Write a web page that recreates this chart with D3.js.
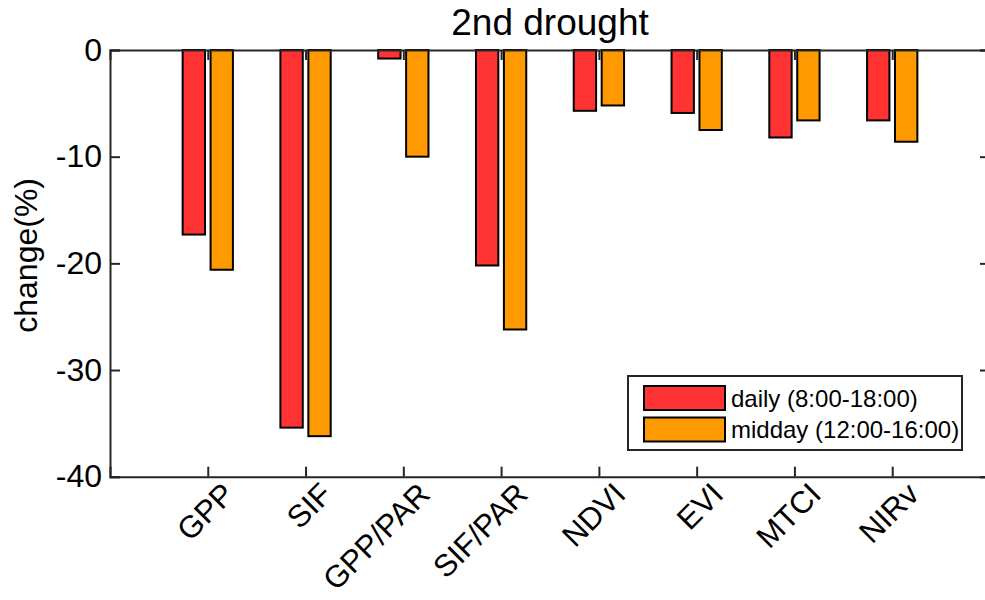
<!DOCTYPE html>
<html>
<head>
<meta charset="utf-8">
<script src="https://cdn.jsdelivr.net/npm/d3@7"></script>
<style>
  html, body { margin: 0; padding: 0; background: #fff; }
  svg { display: block; }
  text { font-family: "Liberation Sans", Arial, Helvetica, sans-serif; fill: #000; }
</style>
</head>
<body>
<svg id="chart" width="985" height="600"></svg>
<script>
const categories = ["GPP", "SIF", "GPP/PAR", "SIF/PAR", "NDVI", "EVI", "MTCI", "NIRv"];
const daily  = [-17.3, -35.4, -0.8, -20.2, -5.7, -5.9, -8.2, -6.6];
const midday = [-20.6, -36.2, -10.0, -26.2, -5.2, -7.5, -6.6, -8.6];
const seriesNames = ["daily (8:00-18:00)", "midday (12:00-16:00)"];
const yTicks = [0, -10, -20, -30, -40];
const titleText = "2nd drought";
const yLabel = "change(%)";

const colors = ["#ff3333", "#ff9900"];
const series = [daily, midday];

const svg = d3.select("#chart");
const L = 110, R = 990, T = 50, B = 476.7;
const x = d3.scaleLinear().domain([0, categories.length + 1]).range([L, R]);
const y = d3.scaleLinear().domain([-40, 0]).range([B, T]);

const axisColor = "#262626";
const groupW = 0.5714, barW = 0.2286;
const offsets = [-groupW / 4, groupW / 4];

// bars
series.forEach((vals, s) => {
  svg.append("g").selectAll("rect").data(vals).join("rect")
    .attr("x", (d, i) => x(i + 1 + offsets[s]) - (x(barW) - x(0)) / 2)
    .attr("width", x(barW) - x(0))
    .attr("y", d => y(Math.max(0, d)))
    .attr("height", d => Math.abs(y(d) - y(0)))
    .attr("fill", colors[s])
    .attr("stroke", "#000")
    .attr("stroke-width", 2);
});

// axes
const fs = 32;
const yAxisL = svg.append("g").attr("transform", `translate(${L},0)`)
  .call(d3.axisLeft(y).tickValues(yTicks).tickSize(-10).tickPadding(8).tickFormat(d3.format("d")));
const yAxisR = svg.append("g").attr("transform", `translate(${R},0)`)
  .call(d3.axisRight(y).tickValues(yTicks).tickSize(-10).tickFormat(""));
const xAxisB = svg.append("g").attr("transform", `translate(0,${B})`)
  .call(d3.axisBottom(x).tickValues(d3.range(1, categories.length + 1)).tickSize(-10).tickFormat(""));
const xAxisT = svg.append("g").attr("transform", `translate(0,${T})`)
  .call(d3.axisTop(x).tickValues(d3.range(1, categories.length + 1)).tickSize(-10).tickFormat(""));

[yAxisL, yAxisR, xAxisB, xAxisT].forEach(g => {
  g.select(".domain").attr("stroke", axisColor).attr("stroke-width", 2);
  g.selectAll(".tick line").attr("stroke", axisColor).attr("stroke-width", 2);
  g.selectAll(".tick text").attr("font-size", fs).attr("font-family", "Liberation Sans, Arial, sans-serif").attr("fill", "#000");
});
yAxisL.selectAll(".tick text").text(d => d === 0 ? "0" : "-" + Math.abs(d));

// rotated category labels
svg.append("g").selectAll("text").data(categories).join("text")
  .attr("transform", (d, i) => `translate(${x(i + 1) + 21},${B + 12}) rotate(-45)`)
  .attr("text-anchor", "end")
  .attr("dominant-baseline", "central")
  .attr("font-size", 31)
  .text(d => d);

// y label
svg.append("text")
  .attr("transform", `translate(26,${(T + B) / 2 - 8}) rotate(-90)`)
  .attr("text-anchor", "middle")
  .attr("dominant-baseline", "central")
  .attr("font-size", fs)
  .text(yLabel);

// title
svg.append("text")
  .attr("x", (L + R) / 2).attr("y", 35)
  .attr("text-anchor", "middle")
  .attr("font-size", 37)
  .text(titleText);

// legend
const lg = svg.append("g");
lg.append("rect").attr("x", 628).attr("y", 376).attr("width", 334).attr("height", 74)
  .attr("fill", "#fff").attr("stroke", axisColor).attr("stroke-width", 2);
seriesNames.forEach((name, s) => {
  const cy = 398 + s * 31.5;
  lg.append("rect").attr("x", 644).attr("y", cy - 12).attr("width", 81).attr("height", 24)
    .attr("fill", colors[s]).attr("stroke", "#000").attr("stroke-width", 2);
  lg.append("text").attr("x", 731).attr("y", cy).attr("dominant-baseline", "central")
    .attr("font-size", 24).text(name);
});
</script>
</body>
</html>
